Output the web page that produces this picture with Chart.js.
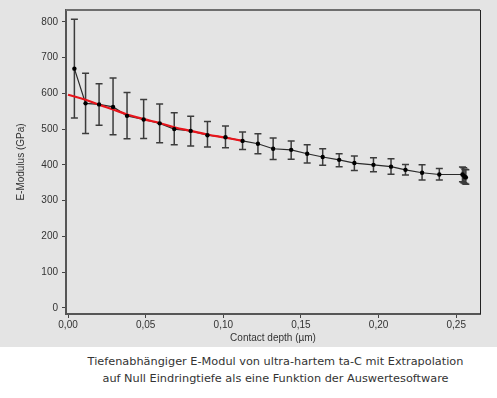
<!DOCTYPE html>
<html>
<head>
<meta charset="utf-8">
<script src="https://cdn.jsdelivr.net/npm/chart.js@4/dist/chart.umd.min.js"></script>
<style>
  body { margin: 0; background: #fff; }
  #wrap { width: 497px; height: 347px; background: #e4e4e4; }
  #caption {
    font-family: "DejaVu Sans", sans-serif;
    font-size: 11.3px;
    color: #333;
    text-align: center;
    line-height: 17px;
    margin-top: 6px;
    padding-left: 54px;
    width: 443px;
  }
</style>
</head>
<body>
<div id="wrap"><canvas id="chart" width="497" height="347"></canvas></div>
<div id="caption">Tiefenabhängiger E-Modul von ultra-hartem ta-C mit Extrapolation<br>auf Null Eindringtiefe als eine Funktion der Auswertesoftware</div>
<script>
// measured points (contact depth in µm, modulus in GPa)
const depth = [0.0041, 0.0113, 0.020, 0.029, 0.038, 0.0487, 0.059, 0.0684, 0.079, 0.0898,
    0.1014, 0.1124, 0.1223, 0.1321, 0.1437, 0.154, 0.164, 0.1746, 0.1844, 0.1967,
    0.208, 0.2173, 0.228, 0.2391, 0.254, 0.2548, 0.2556, 0.2562];
const modulus = [669, 572, 569, 562, 537, 527, 516, 500, 495, 483,
    477, 467, 459, 445, 442, 431, 422, 414, 405, 400,
    395, 386, 378, 373, 373, 370, 366, 365];
const errHigh = [807, 656, 627, 643, 602, 583, 570, 546, 536, 521,
    509, 492, 487, 475, 467, 456, 445, 431, 425, 420,
    417, 401, 400, 390, 394, 392, 388, 386];
const errLow = [531, 488, 511, 484, 473, 474, 462, 456, 453, 450,
    448, 443, 431, 415, 416, 405, 399, 395, 384, 381,
    374, 372, 358, 358, 353, 350, 348, 346];

// extrapolation fit (red)
const fitDepth = [0, 0.0113, 0.020, 0.029, 0.038, 0.0487, 0.059, 0.0684, 0.079, 0.0898, 0.1014, 0.1124];
const fitModulus = [596, 582, 568, 555, 541, 528, 517, 505, 495, 485, 476, 467];

const xTicks = [0, 0.05, 0.10, 0.15, 0.20, 0.25];
const yTicks = [0, 100, 200, 300, 400, 500, 600, 700, 800];

const pts = depth.map((d, i) => ({ x: d, y: modulus[i] }));
const fitPts = fitDepth.map((d, i) => ({ x: d, y: fitModulus[i] }));

const tickFont = { family: "'Liberation Sans', Arial, sans-serif", size: 10 };

// error bars under the lines
const errorBars = {
    id: "errorBars",
    beforeDatasetsDraw(chart) {
        const ctx = chart.ctx;
        const xs = chart.scales.x, ys = chart.scales.y;
        ctx.save();
        ctx.strokeStyle = "#3c3c3c";
        ctx.lineWidth = 1.5;
        depth.forEach((d, i) => {
            const px = xs.getPixelForValue(d);
            const top = ys.getPixelForValue(errHigh[i]);
            const bot = ys.getPixelForValue(errLow[i]);
            ctx.beginPath();
            ctx.moveTo(px, top); ctx.lineTo(px, bot);
            ctx.moveTo(px - 3.5, top); ctx.lineTo(px + 3.5, top);
            ctx.moveTo(px - 3.5, bot); ctx.lineTo(px + 3.5, bot);
            ctx.stroke();
        });
        ctx.restore();
    }
};

// top and right frame lines
const frame = {
    id: "frame",
    afterDraw(chart) {
        const a = chart.chartArea, ctx = chart.ctx;
        ctx.save();
        ctx.strokeStyle = "#6e6e6e";
        ctx.lineWidth = 2;
        ctx.beginPath();
        ctx.moveTo(a.left, a.top); ctx.lineTo(a.right, a.top);
        ctx.stroke();
        ctx.strokeStyle = "#222";
        ctx.lineWidth = 1;
        ctx.beginPath();
        ctx.moveTo(a.right + 0.5, a.top); ctx.lineTo(a.right + 0.5, a.bottom);
        ctx.stroke();
        ctx.restore();
    }
};

new Chart(document.getElementById("chart"), {
    type: "scatter",
    data: {
        datasets: [
            {
                data: pts, showLine: true, pointRadius: 0,
                borderColor: "#2a2a2a", borderWidth: 1.2, order: 3
            },
            {
                data: fitPts, showLine: true, pointRadius: 0, tension: 0.4,
                borderColor: "#e8141b", borderWidth: 2.2, order: 2
            },
            {
                data: pts, showLine: false, pointRadius: 2.2,
                backgroundColor: "#000", borderWidth: 0, order: 1
            }
        ]
    },
    options: {
        responsive: false,
        animation: false,
        layout: { padding: { top: 6, right: 17, bottom: 3, left: 0 } },
        plugins: { legend: { display: false }, tooltip: { enabled: false } },
        scales: {
            x: {
                type: "linear", min: -0.0013, max: 0.2653,
                afterBuildTicks: s => { s.ticks = xTicks.map(v => ({ value: v })); },
                afterFit: s => { s.height = 30; },
                ticks: {
                    font: tickFont, color: "#333", padding: 1, maxRotation: 0,
                    callback: v => v.toFixed(2).replace(".", ",")
                },
                grid: { drawOnChartArea: false, tickLength: 4, color: "#444" },
                border: { color: "#555", width: 2 },
                title: {
                    display: true, text: "Contact depth (µm)",
                    font: tickFont, color: "#333", padding: 0
                }
            },
            y: {
                type: "linear", min: -17, max: 833,
                afterBuildTicks: s => { s.ticks = yTicks.map(v => ({ value: v })); },
                afterFit: s => { s.width = 66; },
                ticks: { font: tickFont, color: "#333", padding: 4 },
                grid: { drawOnChartArea: false, tickLength: 4, color: "#444" },
                border: { color: "#555", width: 2 },
                title: {
                    display: true, text: "E-Modulus (GPa)",
                    font: tickFont, color: "#333", padding: { top: 15, bottom: 0 }
                }
            }
        }
    },
    plugins: [errorBars, frame]
});
</script>
</body>
</html>
